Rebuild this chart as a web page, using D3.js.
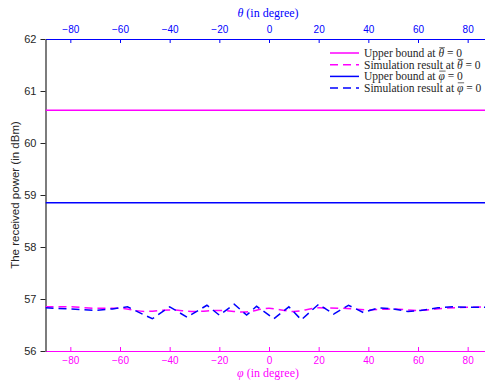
<!DOCTYPE html>
<html>
<head>
<meta charset="utf-8">
<script src="https://cdn.jsdelivr.net/npm/d3@7"></script>
<style>
  body { margin: 0; background: #fff; }
  svg { display: block; font-family: "Liberation Sans", Arial, sans-serif; }
  .lg text { white-space: pre; }
</style>
</head>
<body>
<svg id="chart" width="485" height="381"></svg>
<script>
// tick labels
var xTicks = [-80, -60, -40, -20, 0, 20, 40, 60, 80];
var yTicks = [56, 57, 58, 59, 60, 61, 62];

// upper bounds (dBm)
var upperTheta = 60.63;
var upperPhi = 58.85;

// simulation at theta-bar = 0 (magenta), angle in degree
var simThetaAngle = [-90, -80, -70, -60, -50, -40, -30, -20, -10, 0, 10, 20, 30, 40, 50, 60, 70, 80, 90];
var simThetaPower = [56.85, 56.85, 56.82, 56.82, 56.76, 56.79, 56.76, 56.78, 56.75, 56.82, 56.76, 56.83, 56.82, 56.79, 56.81, 56.78, 56.82, 56.84, 56.85];

// simulation at phi-bar = 0 (blue)
var simPhiAngle = [-90, -80, -70, -63, -57, -47, -40, -33, -25, -20, -14, -9, -5, 2, 8, 13, 20, 26, 32, 38, 44, 50, 56, 61, 68, 74, 81, 90];
var simPhiPower = [56.83, 56.81, 56.78, 56.81, 56.85, 56.62, 56.85, 56.65, 56.88, 56.69, 56.9, 56.69, 56.86, 56.62, 56.85, 56.6, 56.9, 56.71, 56.88, 56.74, 56.83, 56.81, 56.76, 56.78, 56.83, 56.85, 56.84, 56.84];

var legendLabels = [
  { pre: "Upper bound at ", sym: "θ", color: "#ff00ff", dash: null },
  { pre: "Simulation result at ", sym: "θ", color: "#ff00ff", dash: "8,5" },
  { pre: "Upper bound at ", sym: "φ", color: "#0000ff", dash: null },
  { pre: "Simulation result at ", sym: "φ", color: "#0000ff", dash: "8,5" }
];

var magenta = "#ff00ff", blue = "#0000ff";
var svg = d3.select("#chart");

var mLeft = 45.5, mTop = 39, mBottom = 351;
var x = d3.scaleLinear().domain([-90, 90]).range([mLeft, 492.5]);
var y = d3.scaleLinear().domain([56, 62]).range([mBottom, mTop]);

svg.append("clipPath").attr("id", "clip")
  .append("rect").attr("x", mLeft).attr("y", mTop).attr("width", 485 - mLeft).attr("height", mBottom - mTop);

// top axis (theta)
var topAx = svg.append("g")
  .attr("transform", "translate(0," + mTop + ")")
  .call(d3.axisBottom(x).tickValues(xTicks).tickSize(4).tickSizeOuter(0).tickPadding(-10));
topAx.select(".domain").attr("stroke", blue).attr("stroke-width", 1.2);
topAx.selectAll(".tick line").attr("stroke", blue);
topAx.selectAll(".tick text").attr("fill", blue).attr("font-size", 10).attr("dy", 0);

// bottom axis (phi)
var botAx = svg.append("g")
  .attr("transform", "translate(0," + mBottom + ")")
  .call(d3.axisTop(x).tickValues(xTicks).tickSize(4).tickSizeOuter(0).tickPadding(-17.3));
botAx.select(".domain").attr("stroke", magenta).attr("stroke-width", 1.2);
botAx.selectAll(".tick line").attr("stroke", magenta);
botAx.selectAll(".tick text").attr("fill", magenta).attr("font-size", 10).attr("dy", 0);

// left axis
var leftAx = svg.append("g")
  .attr("transform", "translate(" + mLeft + ",0)")
  .call(d3.axisLeft(y).tickValues(yTicks).tickSize(5).tickSizeOuter(0).tickPadding(4).tickFormat(d3.format("d")));
leftAx.select(".domain").attr("stroke", "#262626").attr("stroke-width", 1.2);
leftAx.selectAll(".tick line").attr("stroke", "#262626");
leftAx.selectAll(".tick text").attr("fill", "#262626").attr("font-size", 11);

// axis titles
svg.append("text")
  .attr("transform", "translate(19," + (mTop + mBottom) / 2 + ") rotate(-90)")
  .attr("text-anchor", "middle")
  .attr("font-size", 11.5)
  .attr("fill", "#262626")
  .text("The received power (in dBm)");

var tt = svg.append("text")
  .attr("x", 268).attr("y", 17)
  .attr("text-anchor", "middle")
  .attr("font-family", "'Liberation Serif', serif")
  .attr("font-size", 12)
  .attr("fill", blue);
tt.append("tspan").attr("font-style", "italic").text("θ");
tt.append("tspan").text(" (in degree)");

var bt = svg.append("text")
  .attr("x", 268).attr("y", 377)
  .attr("text-anchor", "middle")
  .attr("font-family", "'Liberation Serif', serif")
  .attr("font-size", 12)
  .attr("fill", magenta);
bt.append("tspan").attr("font-style", "italic").text("φ");
bt.append("tspan").text(" (in degree)");

// data
var plot = svg.append("g").attr("clip-path", "url(#clip)");

plot.append("line")
  .attr("x1", x(-90)).attr("x2", x(90))
  .attr("y1", y(upperTheta)).attr("y2", y(upperTheta))
  .attr("stroke", magenta).attr("stroke-width", 1.5);

var line = d3.line().x(function (d) { return x(d[0]); }).y(function (d) { return y(d[1]); });

plot.append("path")
  .datum(d3.zip(simThetaAngle, simThetaPower))
  .attr("d", line.curve(d3.curveMonotoneX))
  .attr("fill", "none").attr("stroke", magenta).attr("stroke-width", 1.5)
  .attr("stroke-dasharray", "8,5");

plot.append("line")
  .attr("x1", x(-90)).attr("x2", x(90))
  .attr("y1", y(upperPhi)).attr("y2", y(upperPhi))
  .attr("stroke", blue).attr("stroke-width", 1.5);

plot.append("path")
  .datum(d3.zip(simPhiAngle, simPhiPower))
  .attr("d", line.curve(d3.curveLinear))
  .attr("fill", "none").attr("stroke", blue).attr("stroke-width", 1.5)
  .attr("stroke-dasharray", "8,5");

// legend
var lg = svg.append("g").attr("class", "lg").attr("transform", "translate(330,53)");
var lgFamily = "'Liberation Serif', serif", lgSize = 11.5;
legendLabels.forEach(function (d, i) {
  var row = lg.append("g").attr("transform", "translate(0," + i * 11.7 + ")");
  row.append("line")
    .attr("x1", 0).attr("x2", 29).attr("y1", 0).attr("y2", 0)
    .attr("stroke", d.color).attr("stroke-width", 1.5)
    .attr("stroke-dasharray", d.dash);
  var t1 = row.append("text")
    .attr("x", 34).attr("y", 4)
    .attr("font-family", lgFamily).attr("font-size", lgSize)
    .attr("fill", "#262626")
    .text(d.pre.replace(/ /g, "\u00a0"));
  var x1 = 34 + t1.node().getComputedTextLength();
  var t2 = row.append("text")
    .attr("x", x1).attr("y", 4)
    .attr("font-family", lgFamily).attr("font-size", lgSize)
    .attr("font-style", "italic").attr("fill", "#262626")
    .text(d.sym);
  var w2 = t2.node().getComputedTextLength();
  row.append("line")
    .attr("x1", x1 + 0.8).attr("x2", x1 + w2 + 0.8)
    .attr("y1", -5.3).attr("y2", -5.3)
    .attr("stroke", "#262626").attr("stroke-width", 0.7);
  row.append("text")
    .attr("x", x1 + w2).attr("y", 4)
    .attr("font-family", lgFamily).attr("font-size", lgSize)
    .attr("fill", "#262626")
    .text("\u00a0=\u00a00");
});
</script>
</body>
</html>
